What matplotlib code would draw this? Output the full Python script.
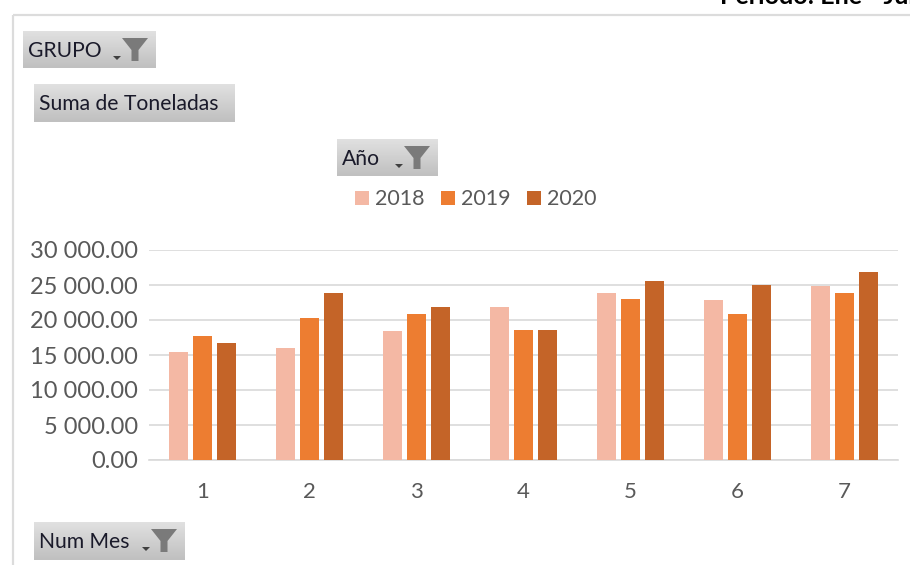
import numpy as np
import matplotlib
matplotlib.use("Agg")
import matplotlib.pyplot as plt
from matplotlib.patches import Polygon, Rectangle

months = [1, 2, 3, 4, 5, 6, 7]
v2018 = [15500, 16000, 18400, 21800, 23900, 22800, 24800]
v2019 = [17700, 20300, 20900, 18600, 23000, 20900, 23900]
v2020 = [16700, 23900, 21800, 18600, 25600, 25000, 26800]
series_names = ["2018", "2019", "2020"]
colors = ["#F4B8A4", "#ED7D31", "#C46428"]
yticks = [0, 5000, 10000, 15000, 20000, 25000, 30000]

W, H = 910, 565
fig = plt.figure(figsize=(W / 100, H / 100), dpi=100, facecolor="white")
plt.rcParams["font.family"] = ["Lato", "DejaVu Sans"]
YTICK_FS = 17
XTICK_FS = 16
LEG_FS = 15.5
BTN_FS = 15.2

# pixel-space overlay
ov = fig.add_axes([0, 0, 1, 1], zorder=3)
ov.set_xlim(0, W); ov.set_ylim(H, 0); ov.axis("off"); ov.patch.set_alpha(0)

# chart frame
ov.plot([13, 13], [15, 565], color="#DCDCDC", lw=1.6, solid_capstyle="butt")
ov.plot([13, 910], [15, 15], color="#DCDCDC", lw=1.6, solid_capstyle="butt")

# heading clipped by the picture edge, as in the reference
ov.text(720, 3.5, "Periodo: Ene - Jul", ha="left", va="baseline", fontsize=18,
        fontweight="bold", color="black", clip_on=False)

# main plot
ax = fig.add_axes([149 / W, 1 - 460 / H, (898 - 149) / W, 210 / H], zorder=2)
x = np.arange(len(months))
for off, vals, col, name in zip([-0.224, 0, 0.224], [v2018, v2019, v2020], colors, series_names):
    ax.bar(x + off, vals, width=0.177, color=col, label=name, zorder=3)
ax.set_xlim(-0.5, len(months) - 0.5)
ax.set_ylim(0, 30000)
ax.set_yticks(yticks)
ax.set_yticklabels([f"{v:,.2f}".replace(",", " ") for v in yticks], fontsize=YTICK_FS, color="#595959")
ax.set_xticks(x)
ax.set_xticklabels(months, fontsize=XTICK_FS, color="#595959")
ax.tick_params(length=0)
ax.tick_params(axis="y", pad=8)
ax.tick_params(axis="x", pad=16)
ax.grid(axis="y", color="#D9D9D9", lw=1.2, zorder=0)
for s in ["top", "right", "left"]:
    ax.spines[s].set_visible(False)
ax.spines["bottom"].set_color("#D9D9D9")
ax.spines["bottom"].set_linewidth(1.2)
ax.set_axisbelow(True)

# legend
for lx, tx, col, name in zip([355, 441, 527], [375, 461, 547], colors, series_names):
    ov.add_patch(Rectangle((lx, 191), 14, 14, color=col, lw=0))
    ov.text(tx, 199, name, fontsize=LEG_FS, color="#595959", va="center", ha="left")

# field buttons
grad = np.linspace(0.88, 0.75, 64).reshape(-1, 1)


def button(x0, y0, x1, y1, label, funnel=True):
    ov.imshow(grad, extent=(x0, x1, y1, y0), cmap="gray", vmin=0, vmax=1,
              aspect="auto", zorder=1, interpolation="bilinear")
    ov.text(x0 + 5, (y0 + y1) / 2 + 1.5, label, fontsize=BTN_FS,
            color="#1A1A2A", va="center", ha="left", zorder=2)
    if funnel:
        fx = x1 - 21
        cy = y0 + 7
        ov.add_patch(Polygon([(fx - 13, cy), (fx + 13, cy), (fx + 3.5, cy + 12),
                              (fx + 3.5, cy + 23), (fx - 3.5, cy + 23), (fx - 3.5, cy + 12)],
                             closed=True, color="#7A7A7A", lw=0, zorder=2))
        ov.add_patch(Polygon([(fx - 22, cy + 18), (fx - 14, cy + 18), (fx - 18, cy + 22)],
                             closed=True, color="#404040", lw=0, zorder=2))


button(23, 31, 156, 68, "GRUPO")
button(34, 84, 235, 122, "Suma de Toneladas", funnel=False)
button(337, 139, 438, 176, "Año")
button(34, 522, 185, 560, "Num Mes")
ov.set_xlim(0, W); ov.set_ylim(H, 0)

fig.savefig("out.png", dpi=100, facecolor="white")
